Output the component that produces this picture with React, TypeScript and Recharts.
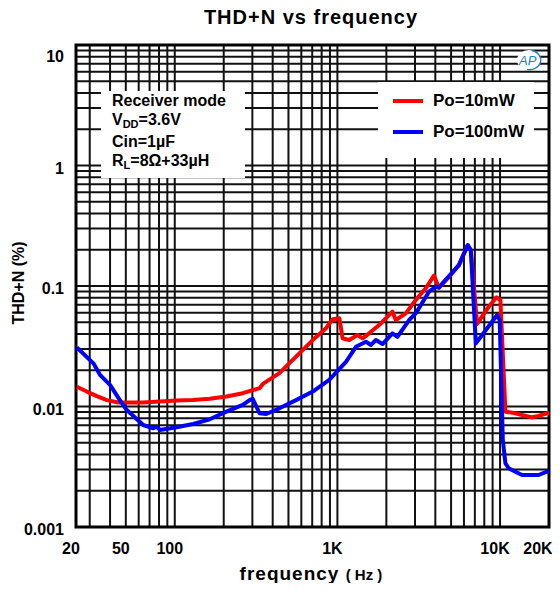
import { LineChart, Line, XAxis, YAxis, CartesianGrid, ReferenceArea } from "recharts";

// Po = 10 mW
const redFreq = [25, 28.8, 33.2, 38.2, 45, 50.7, 64, 81, 102.6, 129.6, 164, 207.6, 262, 332, 348, 440, 557, 705, 851, 935, 1028, 1077, 1183, 1330, 1427, 1568, 1805, 2180, 2286, 2632, 3033, 3490, 3924, 4207, 4851, 5585, 6281, 6610, 7228, 8525, 9506, 10050, 10790, 12420, 13640, 15710, 17260, 19410, 20000];
const redThd = [0.0146, 0.0133, 0.0122, 0.0113, 0.0108, 0.0108, 0.0108, 0.011, 0.0112, 0.0113, 0.0116, 0.0121, 0.0129, 0.0142, 0.0154, 0.0189, 0.0259, 0.0356, 0.0446, 0.053, 0.054, 0.0368, 0.0356, 0.0392, 0.0368, 0.0405, 0.0474, 0.0612, 0.0522, 0.0593, 0.0765, 0.0957, 0.122, 0.0962, 0.119, 0.149, 0.215, 0.199, 0.0484, 0.0673, 0.0805, 0.0765, 0.00906, 0.00879, 0.0085, 0.00813, 0.00834, 0.00879, 0.0088];

// Po = 100 mW
const blueFreq = [25, 31.6, 34.8, 40, 45, 50.7, 64, 73.8, 77.3, 81.1, 102.6, 129.6, 164, 207.6, 262, 288.6, 301, 332, 365, 440, 557, 705, 891, 1129, 1300, 1497, 1606, 1725, 1893, 2180, 2339, 2760, 3033, 3656, 4018, 4207, 5585, 6340, 6610, 7100, 7760, 9590, 9950, 10400, 10790, 11300, 13640, 15710, 17260, 19410, 20000];
const blueThd = [0.0309, 0.0228, 0.0182, 0.0151, 0.0118, 0.00935, 0.00702, 0.00659, 0.0068, 0.00638, 0.00672, 0.00716, 0.00783, 0.00906, 0.0103, 0.0113, 0.0116, 0.00879, 0.00867, 0.00966, 0.0113, 0.0133, 0.0166, 0.0235, 0.0313, 0.0345, 0.0324, 0.0356, 0.033, 0.0405, 0.0379, 0.0522, 0.0593, 0.0897, 0.0986, 0.0975, 0.149, 0.219, 0.199, 0.0334, 0.0392, 0.0574, 0.0522, 0.00527, 0.00338, 0.00307, 0.0027, 0.0027, 0.0027, 0.00288, 0.0029];

const xStart = 24.7;
const xEnd = 20000;
const xTickValues = [xStart, 50, 100, 1000, 10000, 20000];
const xTickLabels = ["20", "50", "100", "1K", "10K", "20K"];

const yTickValues = [0.001, 0.01, 0.1, 1, 10];
const yTickLabels = ["0.001", "0.01", "0.1", "1", "10"];

const series = [
  { name: "Po=10mW", color: "#ff0000", freq: redFreq, thd: redThd },
  { name: "Po=100mW", color: "#0000ff", freq: blueFreq, thd: blueThd },
];

const conditions = ["Receiver mode", "VDD=3.6V", "Cin=1µF", "RL=8Ω+33µH"];

// log grid: 2..9 inside every decade
const xGrid: number[] = [xStart];
for (const d of [10, 100, 1000]) {
  for (let m = 1; m <= 9; m++) {
    const v = d * m;
    if (v > xStart) xGrid.push(v);
  }
}
xGrid.push(10000, 20000);

const yGrid: number[] = [];
for (const d of [0.001, 0.01, 0.1, 1]) {
  for (let m = 1; m <= 9; m++) yGrid.push(+(d * m).toPrecision(3));
}
yGrid.push(10);

const font = '"Liberation Sans", Arial, sans-serif';

const findLabel = (vals: number[], labels: string[], v: number) => {
  const i = vals.findIndex((t) => Math.abs(v - t) / t < 1e-6);
  return i >= 0 ? labels[i] : null;
};

const XTick = (props: any) => {
  const { x, y, payload } = props;
  const label = findLabel(xTickValues, xTickLabels, payload.value);
  if (!label) return null;
  // keep the last label inside the page
  const dx = payload.value === xEnd ? -11 : -5;
  return (
    <text x={x + dx} y={y + 25} textAnchor="middle" fontFamily={font} fontWeight="bold" fontSize={16} fill="#000">
      {label}
    </text>
  );
};

const YTick = (props: any) => {
  const { x, y, payload } = props;
  const label = findLabel(yTickValues, yTickLabels, payload.value);
  if (!label) return null;
  const shift = payload.value === 10 ? 11 : 2;
  return (
    <text x={x - 10} y={y + 6 + shift} textAnchor="end" fontFamily={font} fontWeight="bold" fontSize={16} fill="#000">
      {label}
    </text>
  );
};

const Sub = ({ main, sub, rest }: { main: string; sub: string; rest: string }) => (
  <div>
    {main}
    <span style={{ fontSize: 11, verticalAlign: -3 }}>{sub}</span>
    {rest}
  </div>
);

export default function App() {
  return (
    <div style={{ position: "relative", width: 552, height: 575, fontFamily: font, color: "#000" }}>
      <div
        style={{
          position: "absolute",
          left: 103,
          width: 400,
          top: -2,
          textAlign: "center",
          fontWeight: "bold",
          fontSize: 20,
          letterSpacing: 1,
        }}
      >
        THD+N vs frequency
      </div>

      <LineChart width={552} height={575} margin={{ top: 37, right: 11, bottom: 0, left: 0 }}>
        <CartesianGrid stroke="#111" strokeWidth={2} />
        <XAxis
          type="number"
          dataKey="f"
          scale="log"
          domain={[xStart, xEnd]}
          allowDataOverflow
          ticks={xGrid}
          interval={0}
          tick={<XTick />}
          tickLine={false}
          axisLine={false}
          tickSize={0}
          height={56}
        />
        <YAxis
          type="number"
          dataKey="v"
          scale="log"
          domain={[0.001, 10]}
          allowDataOverflow
          ticks={yGrid}
          interval={0}
          tick={<YTick />}
          tickLine={false}
          axisLine={false}
          tickSize={0}
          width={68}
        />
        <ReferenceArea
          x1={xStart}
          x2={xEnd}
          y1={0.001}
          y2={10}
          fill="none"
          fillOpacity={0}
          stroke="#000"
          strokeWidth={3}
          ifOverflow="visible"
        />
        {series.map((s) => (
          <Line
            key={s.name}
            data={s.freq.map((f, i) => ({ f, v: s.thd[i] }))}
            dataKey="v"
            name={s.name}
            stroke={s.color}
            strokeWidth={4}
            dot={false}
            type="linear"
            strokeLinejoin="round"
            isAnimationActive={false}
          />
        ))}
      </LineChart>

      {/* test conditions */}
      <div
        style={{
          position: "absolute",
          left: 93,
          top: 83,
          width: 144,
          height: 87,
          background: "#fff",
          boxSizing: "border-box",
          paddingLeft: 11,
          paddingTop: 1,
          fontWeight: "bold",
          fontSize: 16,
          lineHeight: "18.5px",
        }}
      >
        <div>{conditions[0]}</div>
        <Sub main="V" sub="DD" rest={conditions[1].slice(3)} />
        <div>{conditions[2]}</div>
        <Sub main="R" sub="L" rest={conditions[3].slice(2)} />
      </div>

      {/* legend */}
      <div
        style={{
          position: "absolute",
          left: 370,
          top: 74,
          width: 156,
          height: 76,
          background: "#fff",
          fontWeight: "bold",
          fontSize: 17,
        }}
      >
        {series.map((s, i) => (
          <div key={s.name} style={{ position: "absolute", left: 15, top: 9 + i * 31, height: 20, display: "flex", alignItems: "center" }}>
            <div style={{ width: 30, height: 4, background: s.color, marginRight: 10 }} />
            <span>{s.name}</span>
          </div>
        ))}
      </div>

      {/* AP mark */}
      <svg style={{ position: "absolute", left: 507, top: 40 }} width={28} height={24}>
        <ellipse cx={14} cy={12} rx={12} ry={10} fill="#fff" />
        <path d="M 17 2.5 A 11 9.5 0 0 1 12 21.5" fill="none" stroke="#2b7dc6" strokeWidth={1.4} />
        <text x={4} y={17} fontFamily={font} fontStyle="italic" fontSize={13} fill="#2b7dc6">
          AP
        </text>
      </svg>

      {/* axis titles */}
      <div
        style={{
          position: "absolute",
          left: 103,
          width: 400,
          top: 555,
          textAlign: "center",
          fontWeight: "bold",
          fontSize: 19,
          letterSpacing: 1,
          whiteSpace: "nowrap",
        }}
      >
        frequency <span style={{ fontSize: 15, letterSpacing: 0 }}>( Hz )</span>
      </div>
      <div
        style={{
          position: "absolute",
          left: -49,
          top: 265,
          width: 120,
          height: 20,
          lineHeight: "20px",
          textAlign: "center",
          fontWeight: "bold",
          fontSize: 16,
          transform: "rotate(-90deg)",
          whiteSpace: "nowrap",
        }}
      >
        THD+N (%)
      </div>
    </div>
  );
}
